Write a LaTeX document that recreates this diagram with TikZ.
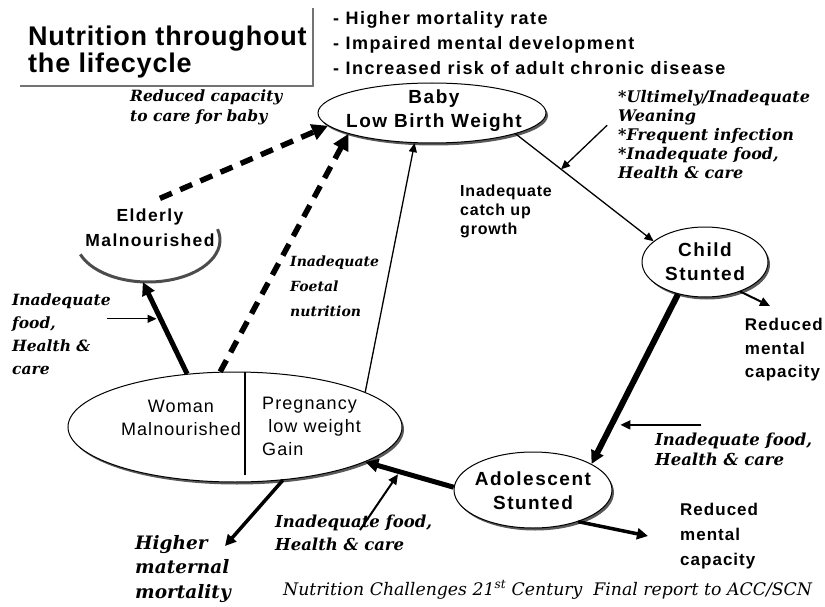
\documentclass[tikz,border=0pt]{standalone}
\usepackage{fontspec}
\setmainfont{Liberation Sans}
\newfontfamily\dvser{DejaVu Serif}
\usetikzlibrary{arrows.meta,shadows,shapes.geometric,calc}
\tikzset{
  oval/.style={ellipse, draw=black, line width=1pt, fill=white, inner sep=0pt,
     drop shadow={shadow xshift=2pt, shadow yshift=-2.5pt, fill=black!65, opacity=1}},
  ovtext/.style={inner sep=0pt, align=center, font=\fontsize{19}{24}\selectfont\bfseries\addfontfeature{LetterSpace=8}},
  plaintext/.style={inner sep=0pt, align=left, font=\fontsize{18}{23}\selectfont\addfontfeature{LetterSpace=6}},
  sanslab/.style={inner sep=0pt, align=left, anchor=north west, font=\fontsize{16}{19}\selectfont\bfseries\addfontfeature{LetterSpace=6}},
  itlab/.style={inner sep=0pt, align=left, anchor=north west, font=\dvser\fontsize{16}{19}\selectfont\bfseries\itshape},
  thickarr/.style={line width=5pt, -{Triangle[length=13pt,width=13pt]}},
  medarr/.style={line width=3.5pt, -{Triangle[length=11pt,width=11pt]}},
  thinarr/.style={line width=1.3pt, -{Triangle[length=9pt,width=8pt]}},
  hintarr/.style={line width=2pt, -{Triangle[length=10pt,width=9pt]}},
  dasharr/.style={line width=5.5pt, dash pattern=on 13pt off 9pt, -{Triangle[length=16pt,width=16pt]}},
  shadowarc/.style={line width=3pt, draw=black!70},
  boxedge/.style={line width=1.2pt, draw=black!55},
}
\begin{document}
\begin{tikzpicture}[x=1pt,y=1pt]
\useasboundingbox (0,0) rectangle (825,-607);

% title and bullet list
\node[inner sep=0pt, anchor=north west, align=left, font=\fontsize{27}{27}\selectfont\bfseries\addfontfeature{LetterSpace=3}] (title) at (28,-25.5) {Nutrition throughout\\the lifecycle};
\draw[boxedge] (20,-86) -| (313,-8);
\node[inner sep=0pt, anchor=north west, align=left, font=\fontsize{18}{25}\selectfont\bfseries\addfontfeature{LetterSpace=8}] (bullets) at (333,-11) {- Higher mortality rate\\- Impaired mental development\\- Increased risk of adult chronic disease};

% ovals
\node[oval, minimum width=228pt, minimum height=60pt] (baby) at (432,-113) {};
\node[ovtext] (babyt) at (434,-111) {Baby\\Low Birth Weight};
\node[oval, minimum width=126pt, minimum height=70pt] (child) at (705,-262) {};
\node[ovtext] (childt) at (705,-262) {Child\\Stunted};
\node[oval, minimum width=158pt, minimum height=76pt] (adol) at (533,-490) {};
\node[ovtext] (adolt) at (533,-491) {Adolescent\\Stunted};
\node[oval, minimum width=334pt, minimum height=110pt] (woman) at (235,-427) {};
\draw[line width=2.2pt] (245,-372) -- (245,-475);
\node[plaintext, align=center] (womant) at (181,-418) {Woman\\Malnourished};
\node[plaintext, anchor=north west] (pregt) at (262,-397) {Pregnancy\\\ low weight\\Gain};
\node[ellipse, draw=none, minimum width=144pt, minimum height=84pt] (eld) at (148,-240) {};
\draw[shadowarc] ($(eld.center)+(15:72pt and 42pt)$) arc[start angle=15, end angle=-160, x radius=72pt, y radius=42pt];
\node[ovtext, font=\fontsize{17.5}{25}\selectfont\bfseries\addfontfeature{LetterSpace=8}] (eldt) at (150,-228) {Elderly\\Malnourished};

% connectors
\draw[dasharr] (eld.74) -- (baby.187);
\draw[dasharr] (woman.105) -- (baby.194);
\draw[thinarr] (woman.15) -- (baby.240);
\draw[thinarr] (baby.-14) -- (child.158);
\coordinate (h1) at ($(baby.-14)!0.33!(child.158)$);
\coordinate (h1s) at ($(h1)+(46,44)$);
\draw[thinarr] (h1s) -- (h1);
\coordinate (rm1) at (770,-306);
\draw[hintarr] (child.-40) -- (rm1);
\draw[thickarr, line width=6pt] (child.230) -- (adol.24);
\coordinate (h2) at ($(child.230)!0.77!(adol.24)$);
\coordinate (h2t) at ($(h2)+(9,0)$);
\coordinate (h2s) at ($(h2)+(90,0)$);
\draw[hintarr] (h2s) -- (h2t);
\coordinate (rm2) at (648,-536);
\draw[medarr] (adol.-35) -- (rm2);
\draw[thickarr] (adol.178) -- (woman.-15);
\coordinate (h3) at ($(woman.-15)!0.37!(adol.178)+(0,-3)$);
\coordinate (h3s) at (360,-530);
\draw[hintarr] (h3s) -- (h3);
\draw[thickarr] (woman.132) -- (eld.263);
\coordinate (h4) at ($(woman.132)!0.6!(eld.263)+(-4,0)$);
\coordinate (h4s) at ($(h4)+(-50,0)$);
\draw[thinarr] (h4s) -- (h4);
\coordinate (hm) at (225,-546);
\draw[medarr] (woman.-48) -- (hm);

% labels
\node[itlab, font=\dvser\fontsize{15.5}{20}\selectfont\bfseries\itshape] (lcare) at (130,-90) {Reduced capacity\\to care for baby};
\node[itlab] (lwean) at (618,-90) {*Ultimely/Inadequate\\Weaning\\*Frequent infection\\*Inadequate food,\\Health \& care};
\node[sanslab, font=\fontsize{16}{19}\selectfont\bfseries\addfontfeature{LetterSpace=5}] (lcatch) at (460,-185) {Inadequate\\catch up\\growth};
\node[itlab, font=\dvser\fontsize{14}{25}\selectfont\bfseries\itshape] (lfoet) at (290,-256) {Inadequate\\Foetal\\nutrition};
\node[itlab, font=\dvser\fontsize{15.5}{23}\selectfont\bfseries\itshape] (lfood1) at (12,-294) {Inadequate\\food,\\Health \&\\care};
\node[sanslab, anchor=north east, font=\fontsize{17}{23.5}\selectfont\bfseries\addfontfeature{LetterSpace=6}] (lred1) at (823,-318) {Reduced\\mental\\capacity};
\node[itlab, font=\dvser\fontsize{16.5}{20}\selectfont\bfseries\itshape] (lfood2) at (655,-433) {Inadequate food,\\Health \& care};
\node[sanslab, font=\fontsize{17}{25}\selectfont\bfseries\addfontfeature{LetterSpace=6}] (lred2) at (680,-503) {Reduced\\mental\\capacity};
\node[itlab, font=\dvser\fontsize{16.5}{23}\selectfont\bfseries\itshape] (lfood3) at (275,-515) {Inadequate food,\\Health \& care};
\node[itlab, font=\dvser\fontsize{18.5}{24.5}\selectfont\bfseries\itshape] (lmort) at (135,-535) {Higher\\maternal\\mortality};
\node[inner sep=0pt, anchor=base west, font=\dvser\fontsize{17.3}{20}\selectfont\itshape] (foot) at (283,-595) {Nutrition Challenges 21\textsuperscript{st} Century\ \ Final report to ACC/SCN};
\end{tikzpicture}
\end{document}
